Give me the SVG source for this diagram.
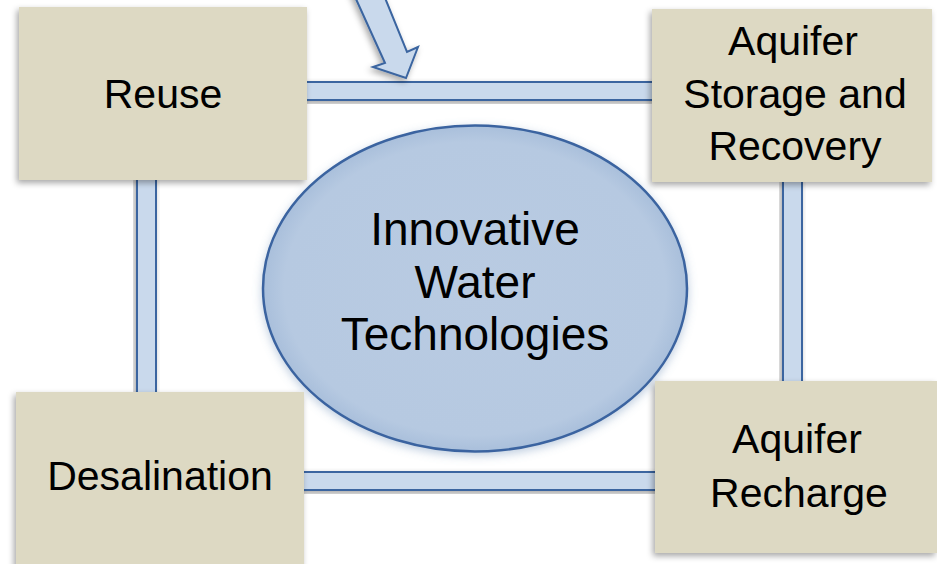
<svg xmlns="http://www.w3.org/2000/svg" width="937" height="564" viewBox="0 0 937 564">
<defs>
<filter id="sh" x="-20%" y="-20%" width="140%" height="140%">
<feDropShadow dx="-2" dy="3" stdDeviation="3" flood-color="#000" flood-opacity="0.35"/>
</filter>
<filter id="glow" x="-20%" y="-20%" width="140%" height="140%">
<feDropShadow dx="0" dy="3" stdDeviation="5" flood-color="#6f8fb8" flood-opacity="0.45"/>
</filter>
<radialGradient id="eg" cx="50%" cy="50%" r="50%">
<stop offset="0" stop-color="#b9cbe2"/>
<stop offset="0.9" stop-color="#b6c9e1"/>
<stop offset="1" stop-color="#a9bfdb"/>
</radialGradient>
<style>
.box{fill:#ddd9c3;filter:url(#sh)}
.con{fill:#c9d9ec;stroke:#3b65a0;stroke-width:2;filter:url(#sh)}
.t{font-family:"Liberation Sans",Arial,sans-serif;font-size:41px;fill:#000;text-anchor:middle}
.c{font-size:46px}
</style>
</defs>
<g id="connectors">
<rect class="con" x="300" y="82" width="356" height="18"/>
<rect class="con" x="137" y="175" width="19" height="222"/>
<rect class="con" x="783" y="178" width="19" height="208"/>
<rect class="con" x="300" y="472" width="360" height="18"/>
</g>
<g id="arrow">
<path class="con" d="M351,-12 L385,63 L373,67 L406,78 L418,47 L407,52 L381,-12 Z"/>
</g>
<g id="center">
<ellipse cx="475" cy="288.5" rx="212" ry="163" fill="url(#eg)" stroke="#3a64a0" stroke-width="2.5" filter="url(#glow)"/>
<text class="t c" x="475" y="245">Innovative</text>
<text class="t c" x="475" y="298">Water</text>
<text class="t c" x="475" y="350">Technologies</text>
</g>
<g id="reuse">
<rect class="box" x="19" y="7" width="288" height="173"/>
<text class="t" x="163" y="108">Reuse</text>
</g>
<g id="asr">
<rect class="box" x="652" y="9" width="280" height="173"/>
<text class="t" x="793" y="55">Aquifer</text>
<text class="t" x="795" y="108">Storage and</text>
<text class="t" x="795" y="160">Recovery</text>
</g>
<g id="desal">
<rect class="box" x="16" y="392" width="288" height="180"/>
<text class="t" x="160" y="490">Desalination</text>
</g>
<g id="recharge">
<rect class="box" x="655" y="381" width="282" height="172"/>
<text class="t" x="797" y="453">Aquifer</text>
<text class="t" x="799" y="507">Recharge</text>
</g>
</svg>
